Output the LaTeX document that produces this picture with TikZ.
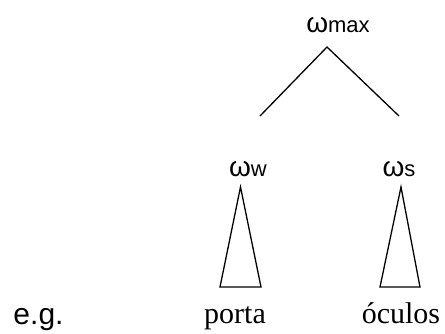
\documentclass[tikz,border=0pt]{standalone}
\usepackage{fontspec}
\setmainfont{Liberation Serif}
\setsansfont{Liberation Sans}
\usepackage{tikz}

\begin{document}
\begin{tikzpicture}[x = 1pt, y = -1pt, line width = 1.3pt,
                      lab/.style = {anchor = base, inner sep = 0pt, font = \sffamily\fontsize{28}{32}\selectfont},
                      word/.style = {anchor = base, inner sep = 0pt, font = \fontsize{30}{34}\selectfont}]
    \useasboundingbox (0, 0) rectangle (445, 333);
    \newcommand{\sub}[1]{{\fontsize{22}{26}\selectfont #1}}

    \node [lab] (wmax) at (338, 32) {ω\sub{max}};
    \node [lab] (ww) at (248, 176) {ω\sub{w}};
    \node [lab] (ws) at (399, 176) {ω\sub{s}};

    \coordinate (top) at (327, 47);
    \coordinate (left) at (260, 116);
    \coordinate (right) at (399, 116);
    \draw (left) -- (top) -- (right);

    \coordinate (wtop) at (240.5, 187);
    \coordinate (wbl) at (220, 287);
    \coordinate (wbr) at (261, 287);
    \draw (wtop) -- (wbl) -- (wbr) -- cycle;

    \coordinate (stop) at (401, 187);
    \coordinate (sbl) at (380, 287);
    \coordinate (sbr) at (420, 287);
    \draw (stop) -- (sbl) -- (sbr) -- cycle;

    \node [word, font = \sffamily\fontsize{30}{34}\selectfont] (eg) at (38.5, 324) {e.g.};
    \node [word] (porta) at (235, 323) {porta};
    \node [word] (oculos) at (401, 323) {óculos};
\end{tikzpicture}
\end{document}
